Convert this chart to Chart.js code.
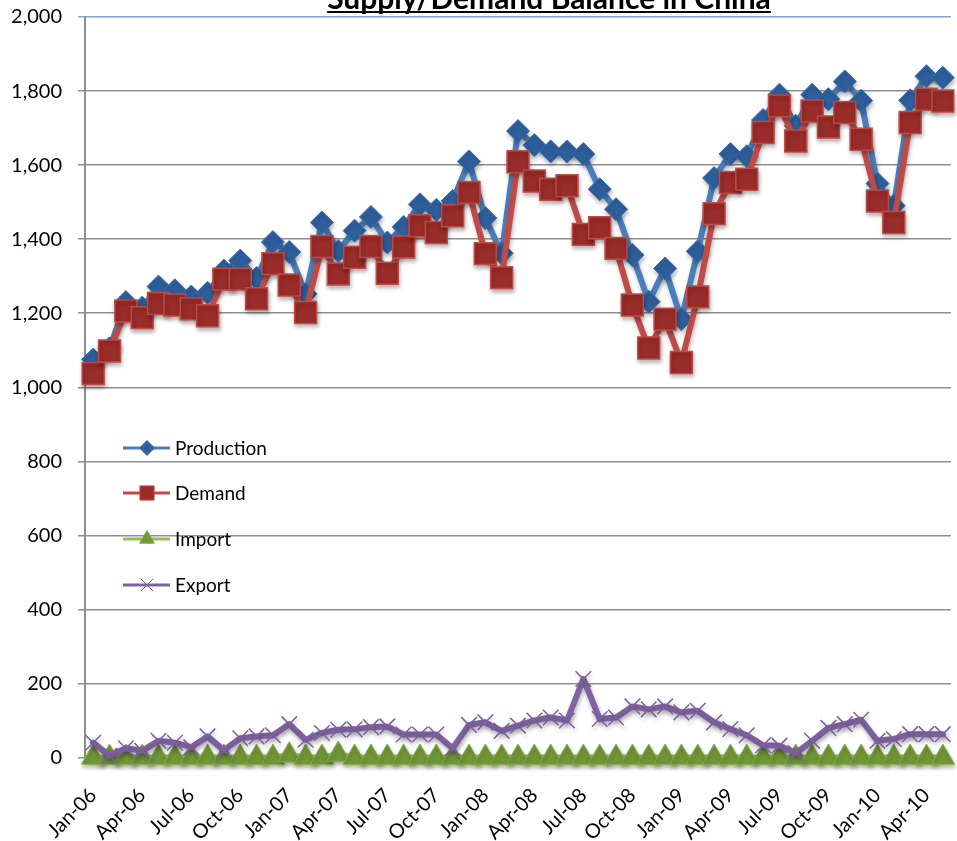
<!DOCTYPE html>
<html>
<head>
<meta charset="utf-8">
<script src="https://cdn.jsdelivr.net/npm/chart.js@4"></script>
<style>
  html, body { margin: 0; padding: 0; background: #fff; overflow: hidden; }
  #wrap { width: 957px; height: 841px; overflow: hidden; position: relative; }
  #container-chart { position: absolute; left: 0; top: 0; }
</style>
</head>
<body>
<div id="wrap"><canvas id="container-chart" width="968" height="841"></canvas></div>
<script>

// meses Jan-06 .. May-10
const months = ['Jan','Feb','Mar','Apr','May','Jun','Jul','Aug','Sep','Oct','Nov','Dec'];
const labels = [];
for (let y = 6; y <= 10; y++) {
  for (let m = 0; m < 12; m++) {
    if (y === 10 && m > 4) break;
    labels.push(months[m] + '-' + String(y).padStart(2, '0'));
  }
}

const production = [1075, 1105, 1230, 1215, 1272, 1262, 1245, 1255, 1315, 1342, 1295, 1392,
  1365, 1252, 1445, 1368, 1423, 1460, 1391, 1433, 1494, 1479, 1503, 1610,
  1457, 1362, 1692, 1654, 1637, 1637, 1630, 1535, 1481, 1357, 1231, 1321,
  1184, 1367, 1565, 1630, 1624, 1722, 1790, 1706, 1790, 1778, 1826, 1774,
  1550, 1490, 1775, 1840, 1836];

const demand = [1037, 1098, 1206, 1188, 1226, 1222, 1212, 1193, 1292, 1292, 1239, 1334,
  1276, 1202, 1380, 1306, 1351, 1380, 1308, 1379, 1436, 1418, 1463, 1526,
  1361, 1296, 1609, 1557, 1535, 1544, 1413, 1431, 1375, 1222, 1106, 1184,
  1067, 1244, 1469, 1553, 1562, 1688, 1760, 1665, 1746, 1703, 1742, 1670,
  1503, 1445, 1715, 1778, 1773];

const importData = [0, 0, 0, 0, 0, 0, 0, 0, 0, 0, 0, 0,
  6, 0, 0, 8, 0, 0, 0, 0, 0, 0, 0, 0,
  0, 0, 0, 0, 0, 0, 0, 0, 0, 0, 0, 0,
  0, 0, 0, 0, 0, 0, 0, 0, 0, 0, 0, 0,
  0, 0, 0, 0, 0];

const exportData = [40, 5, 25, 18, 45, 40, 28, 57, 20, 52, 57, 60,
  90, 48, 66, 75, 76, 82, 84, 62, 62, 62, 25, 88,
  95, 72, 86, 100, 108, 100, 212, 104, 108, 138, 130, 138,
  122, 126, 95, 77, 60, 33, 32, 12, 45, 80, 90, 102,
  45, 50, 63, 63, 63];

const yTicks = [0, 200, 400, 600, 800, 1000, 1200, 1400, 1600, 1800, 2000];

const FONT = 'Lato, "Open Sans", sans-serif';

// sombra tipo Excel
const shadowPlugin = {
  id: 'shadow',
  beforeDatasetsDraw(chart) {
    const c = chart.ctx;
    c.save();
    c.shadowColor = 'rgba(0,0,0,0.28)';
    c.shadowBlur = 4;
    c.shadowOffsetX = 1;
    c.shadowOffsetY = 3;
  },
  afterDatasetsDraw(chart) {
    chart.ctx.restore();
  }
};

// titulo subrayado + leyenda dentro del grafico
const extrasPlugin = {
  id: 'extras',
  afterDraw(chart) {
    const c = chart.ctx;
    c.save();
    c.font = 'bold 30px ' + FONT;
    c.fillStyle = '#000';
    c.textAlign = 'center';
    c.textBaseline = 'alphabetic';
    const title = 'Supply/Demand Balance in China';
    const w = c.measureText(title).width;
    c.fillText(title, 549, 9);
    c.fillRect(549 - w / 2, 11, w, 2);

    const items = chart.data.datasets;
    const ys = [448, 493, 539, 585];
    c.textAlign = 'left';
    c.textBaseline = 'middle';
    c.font = '19px ' + FONT;
    items.forEach((ds, i) => {
      const y = ys[i];
      c.strokeStyle = ds.borderColor;
      c.lineWidth = 3;
      c.beginPath();
      c.moveTo(123, y);
      c.lineTo(170, y);
      c.stroke();
      c.fillStyle = ds.pointBackgroundColor;
      c.strokeStyle = ds.pointBorderColor;
      c.lineWidth = 1;
      Chart.helpers.drawPoint(c, {
        pointStyle: ds.pointStyle,
        radius: ds.legendRadius,
        borderWidth: 1,
        rotation: 0
      }, 147, y);
      c.fillStyle = '#000';
      c.fillText(ds.label, 175, y + 1);
    });
    c.restore();
  }
};

const ctx = document.querySelector('#container-chart').getContext('2d');

const configChart = {
  type: 'line',
  data: {
    labels: labels,
    datasets: [
      {
        label: 'Production',
        data: production,
        borderColor: '#4a7ebb',
        borderWidth: 6,
        pointStyle: 'rectRot',
        pointRadius: 11.5,
        legendRadius: 7.5,
        pointBackgroundColor: '#2e5e9b',
        pointBorderColor: '#3d6faf',
        pointBorderWidth: 1,
        clip: false,
        order: 4
      },
      {
        label: 'Demand',
        data: demand,
        borderColor: '#be4b48',
        borderWidth: 6,
        pointStyle: 'rect',
        pointRadius: 15.5,
        legendRadius: 10,
        pointBackgroundColor: '#9a2c29',
        pointBorderColor: '#be4b48',
        pointBorderWidth: 1.5,
        clip: false,
        order: 3
      },
      {
        label: 'Import',
        data: importData,
        borderColor: '#9bbb59',
        borderWidth: 6,
        pointStyle: 'triangle',
        pointRadius: 13.5,
        legendRadius: 8.5,
        pointBackgroundColor: '#6f9637',
        pointBorderColor: '#86ad47',
        pointBorderWidth: 1,
        clip: false,
        order: 2
      },
      {
        label: 'Export',
        data: exportData,
        borderColor: '#8064a2',
        borderWidth: 6,
        pointStyle: 'crossRot',
        pointRadius: 11,
        legendRadius: 9,
        pointBackgroundColor: '#7d5fa0',
        pointBorderColor: '#7d5fa0',
        pointBorderWidth: 1.5,
        clip: false,
        order: 1
      }
    ]
  },
  options: {
    responsive: false,
    animation: false,
    layout: { padding: { top: 15, left: 0, right: 0, bottom: 0 } },
    elements: {
      line: { tension: 0, borderJoinStyle: 'round', borderCapStyle: 'round' },
      point: { hoverRadius: 10 }
    },
    plugins: {
      legend: { display: false },
      title: { display: false },
      tooltip: { enabled: false }
    },
    scales: {
      x: {
        offset: true,
        grid: { display: false },
        border: { display: false },
        ticks: {
          autoSkip: false,
          minRotation: 45,
          maxRotation: 45,
          padding: 18,
          color: '#000',
          font: { family: FONT, size: 20 },
          callback: function (val, i) { return i % 3 === 0 ? labels[i] : ''; }
        },
        afterFit(scale) {
          scale.height = 83.5;
          scale.paddingLeft = 0;
          scale.paddingRight = 0;
        }
      },
      y: {
        min: 0,
        max: 2000,
        afterBuildTicks(scale) { scale.ticks = yTicks.map(v => ({ value: v })); },
        grid: {
          color: (c) => (c.tick && c.tick.value === 2000) ? '#86a3cc' : '#8f8f8f',
          lineWidth: 1.5,
          tickLength: 7,
          drawTicks: true
        },
        border: { display: true, color: '#8f8f8f', width: 2 },
        ticks: {
          padding: 16,
          color: '#000',
          font: { family: FONT, size: 20 },
          callback: (v) => v.toLocaleString('en-US')
        },
        afterFit(scale) {
          scale.width = 85;
          scale.paddingTop = 0;
          scale.paddingBottom = 0;
        }
      }
    }
  },
  plugins: [shadowPlugin, extrasPlugin]
};

const myChart = new Chart(ctx, configChart);
</script>
</body>
</html>
